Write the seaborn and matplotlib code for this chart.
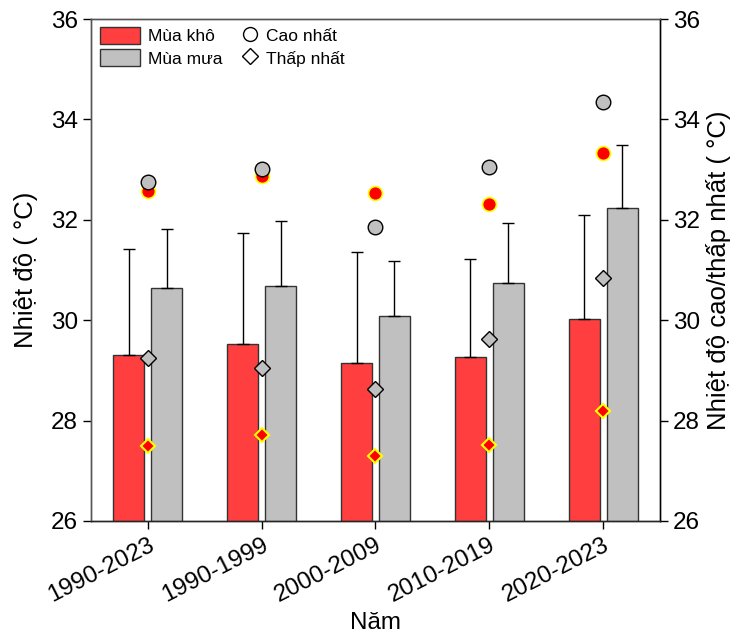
import numpy as np
import pandas as pd
import matplotlib
matplotlib.use('Agg')
import matplotlib.pyplot as plt
import seaborn as sns
from matplotlib.patches import Patch
from matplotlib.lines import Line2D

# --- data ---
periods = ['1990-2023', '1990-1999', '2000-2009', '2010-2019', '2020-2023']
seasons = ['Mùa khô', 'Mùa mưa']

dry_mean = [29.30, 29.53, 29.14, 29.26, 30.02]
dry_sd = [2.12, 2.20, 2.22, 1.95, 2.08]
wet_mean = [30.64, 30.69, 30.08, 30.75, 32.23]
wet_sd = [1.18, 1.29, 1.09, 1.19, 1.26]

dry_max = [32.57, 32.87, 32.54, 32.32, 33.34]
dry_min = [27.49, 27.71, 27.30, 27.52, 28.19]
wet_max = [32.75, 33.01, 31.86, 33.06, 34.34]
wet_min = [29.24, 29.04, 28.62, 29.62, 30.85]

RED = '#FF3F3F'
GRAY = '#C0C0C0'

sns.set_style('ticks')
plt.rcParams['font.family'] = ['Liberation Sans', 'DejaVu Sans']
plt.rcParams['text.color'] = 'black'
plt.rcParams['axes.labelcolor'] = 'black'
plt.rcParams['xtick.color'] = 'black'
plt.rcParams['ytick.color'] = 'black'

df = pd.DataFrame({
    'Năm': periods * 2,
    'Mùa': [seasons[0]] * len(periods) + [seasons[1]] * len(periods),
    'T': dry_mean + wet_mean,
})

fig = plt.figure(figsize=(7.46, 6.42), dpi=100)
ax = fig.add_axes([0.122, 0.1885, 0.7627, 0.7819])

sns.barplot(data=df, x='Năm', y='T', hue='Mùa', order=periods, hue_order=seasons,
            palette=[RED, GRAY], saturation=1, width=0.667, gap=0.18, errorbar=None,
            edgecolor='#333333', linewidth=1, legend=False, ax=ax)

# one-sided (upper) error bars at the bar centres
bars = list(ax.patches)
xs = [b.get_x() + b.get_width() / 2 for b in bars]
tops = [b.get_y() + b.get_height() for b in bars]
errs = dry_sd + wet_sd
ax.errorbar(xs, tops, yerr=[np.zeros(len(errs)), errs], fmt='none',
            ecolor='black', elinewidth=1, capsize=4.5, capthick=1, zorder=1)

ax.set_ylim(26, 36)
ax.set_xlim(-0.5, 4.5)
ax.set_yticks(np.arange(26, 37, 2))
ax.set_xlabel('Năm', fontsize=17.5)
ax.set_ylabel('Nhiệt độ ( °C)', fontsize=18.5, labelpad=9)
ax.tick_params(axis='both', direction='out', length=6, width=1, labelsize=17.5)
for lbl in ax.get_xticklabels():
    lbl.set_rotation(27)
    lbl.set_ha('right')
    lbl.set_rotation_mode('anchor')

# max / min markers on the right axis
ax2 = ax.twinx()
xpos = np.arange(len(periods))
ax2.plot(xpos, dry_max, 'o', ms=10, mfc='red', mec='yellow', mew=1.2, zorder=3)
ax2.plot(xpos, wet_max, 'o', ms=10.5, mfc=GRAY, mec='black', mew=1, zorder=4)
ax2.plot(xpos, dry_min, 'D', ms=7.5, mfc='red', mec='yellow', mew=1.5, zorder=3)
ax2.plot(xpos, wet_min, 'D', ms=8, mfc=GRAY, mec='black', mew=1, zorder=4)
ax2.set_ylim(26, 36)
ax2.set_yticks(np.arange(26, 37, 2))
ax2.set_ylabel('Nhiệt độ cao/thấp nhất ( °C)', fontsize=18.5)
ax2.tick_params(axis='y', direction='out', length=6, width=1, labelsize=17.5)

for a in (ax, ax2):
    for s in a.spines.values():
        s.set_linewidth(1)
ax.spines['left'].set_color('#555555')
ax.spines['top'].set_color('#555555')
ax2.spines['top'].set_color('#555555')
ax2.spines['left'].set_color('#555555')
ax2.spines['right'].set_color('black')

# two legends: season patches, then the max/min marker key
season_handles = [
    Patch(facecolor=RED, edgecolor='#333333', label='Mùa khô'),
    Patch(facecolor=GRAY, edgecolor='#333333', label='Mùa mưa'),
]
marker_handles = [
    Line2D([], [], ls='none', marker='o', ms=10, mfc='white', mec='black', label='Cao nhất'),
    Line2D([], [], ls='none', marker='D', ms=8, mfc='white', mec='black', label='Thấp nhất'),
]
leg1 = ax2.legend(handles=season_handles, frameon=False, loc='upper left',
                  bbox_to_anchor=(0.016, 0.985), borderpad=0, borderaxespad=0,
                  fontsize=12.5, handlelength=2.3, handleheight=1.15,
                  handletextpad=0.45, labelspacing=0.3)
ax2.add_artist(leg1)
ax2.legend(handles=marker_handles, frameon=False, loc='upper left',
           bbox_to_anchor=(0.264, 0.985), borderpad=0, borderaxespad=0,
           fontsize=12.5, handlelength=1.0, handleheight=1.15,
           handletextpad=0.4, labelspacing=0.3)

fig.savefig('out.png', dpi=100)
